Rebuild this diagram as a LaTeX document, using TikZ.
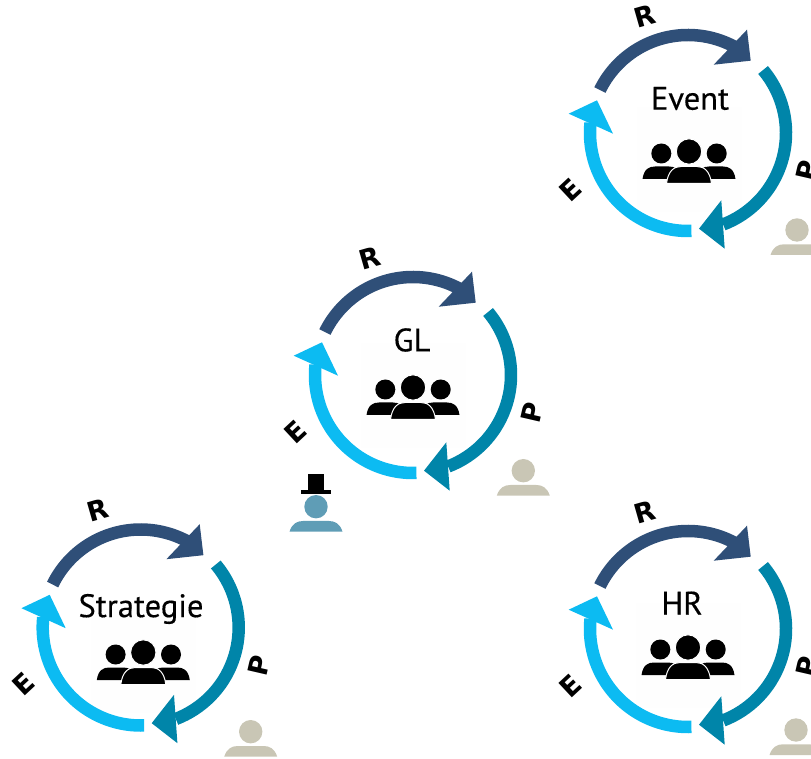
\documentclass[tikz,border=0pt]{standalone}
\usepackage{fontspec}
\newfontfamily\titlefont{PT Sans}[FakeBold=0.3]
\newfontfamily\letterfont{DejaVu Sans}
\definecolor{cR}{HTML}{2F4F78}
\definecolor{cP}{HTML}{0085A9}
\definecolor{cE}{HTML}{0CBBF2}
\definecolor{cTan}{HTML}{C9C6B5}
\definecolor{cBlue}{HTML}{5F9DB6}
\tikzset{
  x=1pt,y=1pt,
  ringarc/.style={line width=12.5pt,line cap=butt},
  ringhead/.style={fill=#1,draw=none},
  rpeletter/.style={font=\letterfont\bfseries\fontsize{27}{27}\selectfont,inner sep=0pt,text=black},
  title/.style={font=\titlefont\fontsize{32.5}{32.5}\selectfont,inner sep=0pt,text=black},
  cycle/.pic={
    \draw[ringarc,cR] (154:98) arc[start angle=154,end angle=60,radius=98pt];
    \fill[ringhead=cR] (62.7,72.3) -- (59,103.3) -- (25.7,68.3) -- cycle;
    \draw[ringarc,cP] (40:98) arc[start angle=40,end angle=-69,radius=98pt];
    \fill[ringhead=cP] (11,-95.7) -- (33.3,-67.3) -- (36.7,-115.7) -- cycle;
    \draw[ringarc,cE] (-88:98) arc[start angle=-88,end angle=-186,radius=98pt];
    \fill[ringhead=cE] (-91,32.7) -- (-119.3,19.3) -- (-75,-0.7) -- cycle;
    \node[rpeletter,rotate=16] (-r) at (-43,117) {R};
    \node[rpeletter,rotate=77] (-p) at (118.7,-38) {P};
    \node[rpeletter,rotate=43] (-e) at (-117,-57) {E};
  },
  team/.pic={
    \fill[black!0.4] (-52.5,53.5) rectangle (52.5,-51);
    \fill[black] (-27.7,7.5) circle[radius=10];
    \fill[black] (27.7,7.5) circle[radius=10];
    \fill[black] (-46.5,-18) .. controls (-45,-8) and (-40,-5.5) .. (-34,-5.5) -- (-20,-5.5)
       .. controls (-14,-5.5) and (-9,-8) .. (-8,-18) -- cycle;
    \fill[black] (46.5,-18) .. controls (45,-8) and (40,-5.5) .. (34,-5.5) -- (20,-5.5)
       .. controls (14,-5.5) and (9,-8) .. (8,-18) -- cycle;
    \fill[black,draw=white,line width=1pt] (-22.5,-22.5) .. controls (-21,-10) and (-15,-5.5) .. (-8,-5.5) -- (8,-5.5)
       .. controls (15,-5.5) and (21,-10) .. (22.5,-22.5) -- cycle;
    \fill[black,draw=white,line width=1pt] (0,9.5) circle[radius=12.7];
  },
  person/.pic={
    \fill (0,0) circle[radius=11.7];
    \fill (-26.5,-25) .. controls (-24,-17) and (-19,-14.3) .. (-13,-14.3) -- (13,-14.3)
       .. controls (19,-14.3) and (24,-17) .. (26.5,-25) -- cycle;
  }
}
\begin{document}
\begin{tikzpicture}
\useasboundingbox (0,0) rectangle (811,758);
\clip (0,0) rectangle (811,758);
% GL
\pic (teamGL) at (413,361) {team};
\pic (cycGL) at (413,383) {cycle};
\node[title] (labelGL) at (412,418) {GL};
\pic[cTan] (personGL) at (523.3,287.3) {person};
\pic[cBlue] (boss) at (316,251.3) {person};
\fill[black] (301,268) rectangle (331.3,264);
\fill[black] (308,284) rectangle (324,268);
% Event
\pic (teamEvent) at (689,597) {team};
\pic (cycEvent) at (688,625) {cycle};
\node[title] (labelEvent) at (690,659.5) {Event};
\pic[cTan] (personEvent) at (797,528) {person};
% HR
\pic (teamHR) at (688,101) {team};
\pic (cycHR) at (688,129) {cycle};
\node[title] (labelHR) at (682,155) {HR};
\pic[cTan] (personHR) at (796,28) {person};
% Strategie
\pic (teamStrategie) at (143.3,96) {team};
\pic (cycStrategie) at (140.7,130.5) {cycle};
\node[title] (labelStrategie) at (141,149) {Strategie};
\pic[cTan] (personStrategie) at (250.7,26.3) {person};
\end{tikzpicture}
\end{document}
